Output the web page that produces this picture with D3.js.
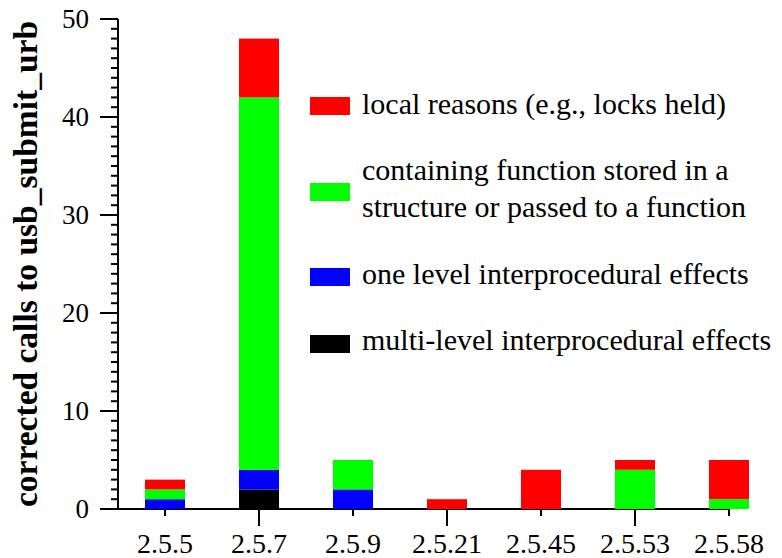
<!DOCTYPE html>
<html>
<head>
<meta charset="utf-8">
<script src="https://cdn.jsdelivr.net/npm/d3@7"></script>
</head>
<body style="margin:0">
<svg id="chart" width="782" height="558" style="display:block" font-family="'Liberation Serif', Tinos, 'Times New Roman'"></svg>
<script>
// ---- data ----
const categories = ["2.5.5", "2.5.7", "2.5.9", "2.5.21", "2.5.45", "2.5.53", "2.5.58"];
const multiLevel = [0, 2, 0, 0, 0, 0, 0];
const oneLevel   = [1, 2, 2, 0, 0, 0, 0];
const containing = [1, 38, 3, 0, 0, 4, 1];
const localReasons = [1, 6, 0, 1, 4, 1, 4];
const seriesKeys = ["multi", "one", "containing", "local"];
const seriesColors = ["#000000", "#0000ff", "#00ff00", "#ff0000"];
const legendLabels = [
  ["local reasons (e.g., locks held)"],
  ["containing function stored in a", "structure or passed to a function"],
  ["one level interprocedural effects"],
  ["multi-level interprocedural effects"]
];
const legendColors = ["#ff0000", "#00ff00", "#0000ff", "#000000"];
const yTicks = [0, 10, 20, 30, 40, 50];
const yTitle = "corrected calls to usb_submit_urb";

// ---- layout ----
const FONT = "'Liberation Serif'";
const svg = d3.select("#chart");
const x0 = 118, yBase = 509, yTop = 19;
const step = 94;
const x = d3.scaleBand().domain(categories).range([x0, x0 + step * categories.length]).paddingInner(0.574).paddingOuter(0.287);
const y = d3.scaleLinear().domain([0, 50]).range([yBase, yTop]);

const table = categories.map((c, i) => ({
  cat: c, multi: multiLevel[i], one: oneLevel[i], containing: containing[i], local: localReasons[i]
}));
const stacked = d3.stack().keys(seriesKeys)(table);

// y axis line + ticks
const g = svg.append("g");
g.append("line").attr("x1", x0).attr("x2", x0).attr("y1", y(50)).attr("y2", y(0))
  .attr("stroke", "#000").attr("stroke-width", 2);
d3.range(0, 51).forEach(v => {
  const major = v % 10 === 0;
  g.append("line").attr("x1", major ? 100 : 111).attr("x2", x0)
    .attr("y1", y(v)).attr("y2", y(v)).attr("stroke", "#000").attr("stroke-width", 2);
});
g.selectAll("text.ylab").data(yTicks).enter().append("text")
  .attr("class", "ylab").attr("x", 89).attr("y", d => y(d) + 9)
  .style("font-family", FONT)
  .attr("text-anchor", "end").attr("font-size", 27).text(d => d);

// x axis line
g.append("line").attr("x1", 100).attr("x2", x(categories[categories.length - 1]) + x.bandwidth() / 2)
  .attr("y1", yBase).attr("y2", yBase).attr("stroke", "#000").attr("stroke-width", 2);
categories.forEach((c, i) => {
  const cx = x(c) + x.bandwidth() / 2;
  g.append("line").attr("x1", cx).attr("x2", cx).attr("y1", yBase).attr("y2", yBase + (i % 2 ? 17 : 7))
    .attr("stroke", "#000").attr("stroke-width", 2);
  g.append("text").attr("x", cx).attr("y", 553).attr("text-anchor", "middle")
    .style("font-family", FONT).attr("font-size", 28).text(c);
});

// bars
svg.append("g").selectAll("g").data(stacked).enter().append("g")
  .attr("fill", (d, i) => seriesColors[i])
  .selectAll("rect").data(d => d).enter().append("rect")
  .attr("x", d => x(d.data.cat))
  .attr("width", x.bandwidth())
  .attr("y", d => y(d[1]))
  .attr("height", d => y(d[0]) - y(d[1]));

// y title
svg.append("text").attr("transform", "translate(37,264) rotate(-90)")
  .style("font-family", FONT)
  .attr("text-anchor", "middle").attr("font-weight", "bold").attr("font-size", 33.5)
  .text(yTitle);

// legend
const swatchY = [97, 183, 268, 335];
const textY = [[114], [180, 217], [284], [350]];
const lg = svg.append("g");
legendLabels.forEach((lines, i) => {
  lg.append("rect").attr("x", 310).attr("y", swatchY[i]).attr("width", 40).attr("height", 18)
    .attr("fill", legendColors[i]);
  lines.forEach((t, j) => {
    lg.append("text").attr("x", 362).attr("y", textY[i][j])
      .style("font-family", FONT).attr("font-size", 30).text(t);
  });
});
</script>
</body>
</html>
